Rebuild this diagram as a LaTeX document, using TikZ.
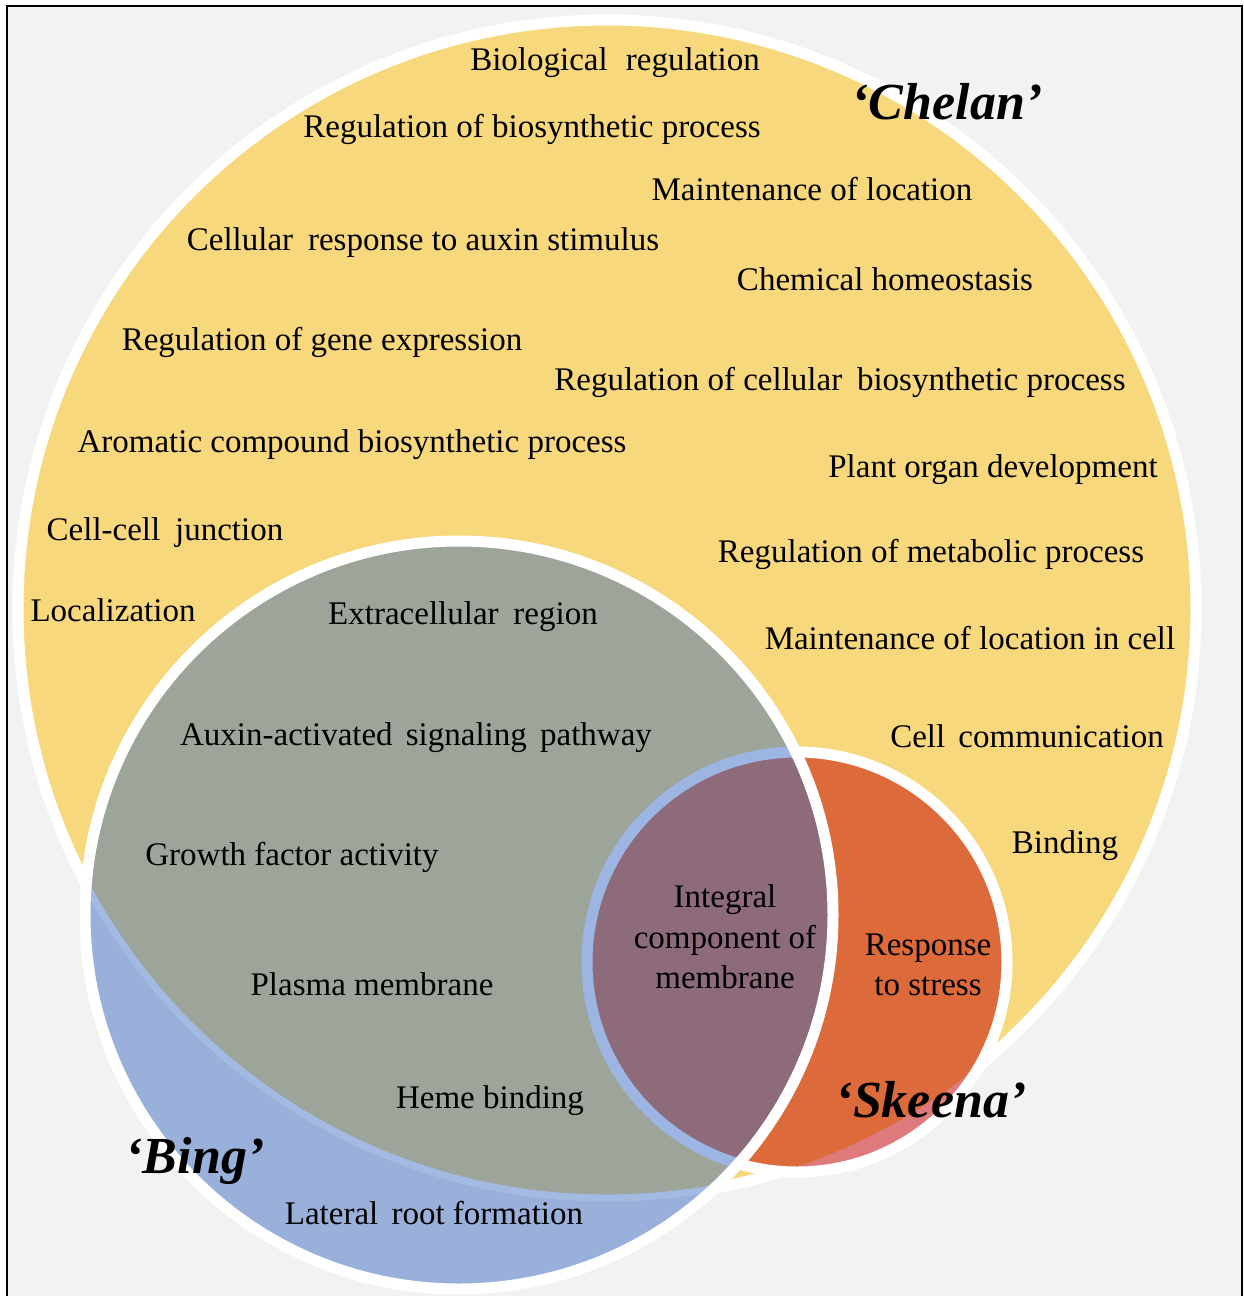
\documentclass[tikz,border=0pt]{standalone}
\usepackage{fontspec}
\setmainfont{Liberation Serif}
\definecolor{bgc}{HTML}{F2F2F2}
\definecolor{yelc}{HTML}{F8D87C}
\definecolor{grayc}{HTML}{9DA59B}
\definecolor{bluec}{HTML}{99B1DA}
\definecolor{orangec}{HTML}{DC6A3A}
\definecolor{pinkc}{HTML}{DE7A7C}
\definecolor{purplec}{HTML}{8E6B7B}
\definecolor{stripec}{HTML}{A3BAE2}
\definecolor{ringc}{HTML}{9DB5E2}
\begin{document}
\begin{tikzpicture}[x=1pt,y=-1pt,
  lbl/.style={font=\fontsize{33}{40.5}\selectfont, inner sep=0pt, anchor=base},
  mlbl/.style={font=\fontsize{33}{40.5}\selectfont, inner sep=0pt, align=center, anchor=center},
  cult/.style={font=\fontsize{52}{58}\selectfont\bfseries\itshape, inner sep=0pt, anchor=base},
  outl/.style={white, line width=11pt}]
\useasboundingbox (0,0) rectangle (1244,1296);
\fill[white] (0,0) rectangle (1244,1296);
\draw[line width=2pt, fill=bgc] (7,6) rectangle (1242,1310);
\coordinate (cC) at (607,609);
\coordinate (cB) at (459,915);
\coordinate (cS) at (797,962);
% Chelan
\fill[yelc] (cC) circle[radius=589pt];
\draw[outl] (cC) circle[radius=589pt];
% Skeena
\fill[pinkc] (cS) circle[radius=210pt];
\begin{scope}
  \clip (cC) circle[radius=589pt];
  \fill[orangec] (cS) circle[radius=210pt];
\end{scope}
\draw[outl] (cS) circle[radius=210pt];
% Bing
\fill[bluec] (cB) circle[radius=374pt];
\begin{scope}
  \clip (cB) circle[radius=374pt];
  \begin{scope}
    \clip (cC) circle[radius=589pt];
    \fill[grayc] (cB) circle[radius=374pt];
  \end{scope}
  \begin{scope}
    \clip (cS) circle[radius=210pt];
    \fill[purplec] (cB) circle[radius=374pt];
  \end{scope}
  \draw[stripec, line width=7pt] (cC) circle[radius=589pt];
  \draw[ringc, line width=11pt] (cS) circle[radius=210pt];
\end{scope}
\draw[outl] (cB) circle[radius=374pt];
% labels
\node[lbl] (t1) at (615,70) {Biological\hspace{0.3em} regulation};
\node[lbl] (t2) at (532,137) {Regulation of biosynthetic process};
\node[lbl] (t3) at (812,200) {Maintenance of location};
\node[lbl] (t4) at (423,250) {Cellular\hspace{0.2em} response to auxin stimulus};
\node[lbl] (t5) at (885,290) {Chemical homeostasis};
\node[lbl] (t6) at (322,350) {Regulation of gene expression};
\node[lbl] (t7) at (840,390) {Regulation of cellular\hspace{0.2em} biosynthetic process};
\node[lbl] (t8) at (352,452) {Aromatic compound biosynthetic process};
\node[lbl] (t9) at (993,477) {Plant organ development};
\node[lbl] (t10) at (165,540) {Cell-cell\hspace{0.2em} junction};
\node[lbl] (t11) at (931,562) {Regulation of metabolic process};
\node[lbl] (t12) at (113,621) {Localization};
\node[lbl] (t13) at (463,624) {Extracellular\hspace{0.2em} region};
\node[lbl] (t14) at (970,649) {Maintenance of location in cell};
\node[lbl] (t15) at (416,745) {Auxin-activated\hspace{0.15em} signaling\hspace{0.15em} pathway};
\node[lbl] (t16) at (1027,747) {Cell\hspace{0.15em} communication};
\node[lbl] (t17) at (292,865) {Growth factor activity};
\node[lbl] (t18) at (1065,853) {Binding};
\node[mlbl] (t19) at (725,937) {Integral\\component of\\membrane};
\node[mlbl] (t20) at (928,965) {Response\\to stress};
\node[lbl] (t21) at (372,995) {Plasma membrane};
\node[lbl] (t22) at (490,1108) {Heme binding};
\node[lbl] (t23) at (434,1224) {Lateral\hspace{0.15em} root formation};
\node[cult] (chelan) at (947,119) {‘Chelan’};
\node[cult] (bing) at (195,1173) {‘Bing’};
\node[cult] (skeena) at (931,1117) {‘Skeena’};
\end{tikzpicture}
\end{document}
